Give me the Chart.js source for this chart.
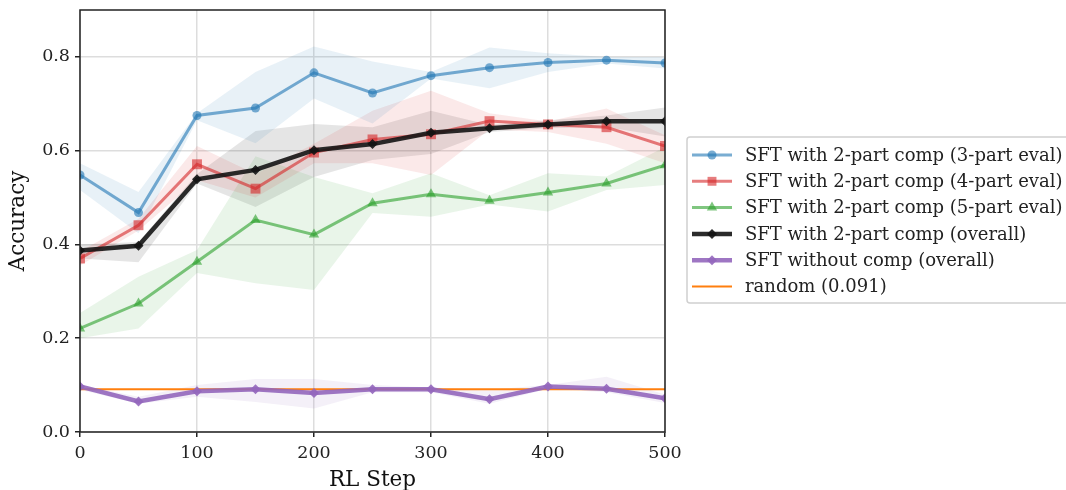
<!DOCTYPE html>
<html lang="en">
<head>
<meta charset="UTF-8" />
<title>Accuracy vs RL Step</title>
<script src="https://cdn.jsdelivr.net/npm/chart.js"></script>
<style>
  html, body { margin: 0; padding: 0; background: #fff; }
  #wrap { width: 1066px; height: 490px; position: relative; }
</style>
</head>
<body>
<div id="wrap"><canvas id="chart"></canvas></div>
<script>
const steps = [0, 50, 100, 150, 200, 250, 300, 350, 400, 450, 500];

const eval3 = [0.548, 0.468, 0.675, 0.691, 0.766, 0.723, 0.760, 0.777, 0.788, 0.793, 0.787];
const eval3Hi = [0.573, 0.512, 0.680, 0.768, 0.822, 0.790, 0.768, 0.820, 0.808, 0.800, 0.800];
const eval3Lo = [0.516, 0.424, 0.665, 0.616, 0.711, 0.658, 0.754, 0.733, 0.768, 0.786, 0.775];

const eval4 = [0.370, 0.441, 0.571, 0.519, 0.596, 0.624, 0.635, 0.663, 0.656, 0.650, 0.610];
const eval4Hi = [0.385, 0.455, 0.610, 0.550, 0.615, 0.685, 0.728, 0.680, 0.662, 0.690, 0.633];
const eval4Lo = [0.355, 0.430, 0.537, 0.500, 0.573, 0.573, 0.548, 0.645, 0.640, 0.615, 0.573];

const eval5 = [0.221, 0.274, 0.363, 0.452, 0.421, 0.488, 0.507, 0.493, 0.511, 0.530, 0.569];
const eval5Hi = [0.254, 0.331, 0.388, 0.588, 0.544, 0.509, 0.552, 0.505, 0.552, 0.545, 0.608];
const eval5Lo = [0.200, 0.221, 0.339, 0.317, 0.303, 0.467, 0.459, 0.485, 0.470, 0.516, 0.527];

const overall = [0.387, 0.397, 0.539, 0.559, 0.601, 0.614, 0.638, 0.648, 0.656, 0.663, 0.663];
const overallHi = [0.400, 0.405, 0.550, 0.642, 0.657, 0.650, 0.685, 0.655, 0.665, 0.675, 0.692];
const overallLo = [0.370, 0.362, 0.530, 0.480, 0.544, 0.580, 0.593, 0.640, 0.648, 0.650, 0.630];

const noComp = [0.097, 0.065, 0.087, 0.091, 0.083, 0.091, 0.091, 0.070, 0.097, 0.092, 0.072];
const noCompHi = [0.100, 0.075, 0.100, 0.113, 0.113, 0.100, 0.095, 0.090, 0.100, 0.118, 0.080];
const noCompLo = [0.090, 0.060, 0.075, 0.064, 0.050, 0.085, 0.085, 0.060, 0.092, 0.085, 0.062];

const randomLevel = 0.091;
const yTicks = [0.0, 0.2, 0.4, 0.6, 0.8];
const xTicks = [0, 100, 200, 300, 400, 500];

const SERIF = "'DejaVu Serif', 'Liberation Serif', serif";

const series = [
  { label: "SFT with 2-part comp (3-part eval)", mean: eval3, hi: eval3Hi, lo: eval3Lo,
    color: "rgba(31,119,180,0.6)", band: "rgba(31,119,180,0.1)", marker: "circle", r: 4.5, width: 3, order: 5 },
  { label: "SFT with 2-part comp (4-part eval)", mean: eval4, hi: eval4Hi, lo: eval4Lo,
    color: "rgba(214,39,40,0.6)", band: "rgba(214,39,40,0.1)", marker: "rect", r: 7, width: 3, order: 4 },
  { label: "SFT with 2-part comp (5-part eval)", mean: eval5, hi: eval5Hi, lo: eval5Lo,
    color: "rgba(44,160,44,0.6)", band: "rgba(44,160,44,0.1)", marker: "triangle", r: 6, width: 3, order: 3 },
  { label: "SFT with 2-part comp (overall)", mean: overall, hi: overallHi, lo: overallLo,
    color: "rgba(20,20,20,0.9)", band: "rgba(0,0,0,0.1)", marker: "rectRot", r: 5, width: 4.5, order: 2 },
  { label: "SFT without comp (overall)", mean: noComp, hi: noCompHi, lo: noCompLo,
    color: "rgba(148,103,189,0.9)", band: "rgba(148,103,189,0.1)", marker: "rectRot", r: 5, width: 4.5, order: 1 },
];

const pts = (arr) => steps.map((s, i) => ({ x: s, y: arr[i] }));

const datasets = [];
series.forEach((s) => {
  datasets.push({ data: pts(s.hi), borderWidth: 0, pointRadius: 0, fill: false, order: 10, clip: 0 });
  datasets.push({ data: pts(s.lo), borderWidth: 0, pointRadius: 0, fill: "-1",
    backgroundColor: s.band, order: 10, clip: 0 });
});
series.forEach((s) => {
  datasets.push({
    label: s.label, data: pts(s.mean), borderColor: s.color, backgroundColor: s.color,
    borderWidth: s.width, pointStyle: s.marker, pointRadius: s.r, pointBorderWidth: 0,
    pointBackgroundColor: s.color, fill: false, tension: 0, order: s.order, clip: 0,
  });
});
datasets.push({
  label: "random (0.091)", data: [{ x: 0, y: randomLevel }, { x: 500, y: randomLevel }],
  borderColor: "#ff7f0e", borderWidth: 2, pointRadius: 0, fill: false, order: 6, clip: 0,
});

const legendItems = series.map((s) => s).concat([
  { label: "random (0.091)", color: "#ff7f0e", width: 2, marker: null },
]);

function drawMarker(ctx, style, x, y, r) {
  ctx.beginPath();
  if (style === "circle") {
    ctx.arc(x, y, r, 0, Math.PI * 2);
  } else if (style === "rect") {
    const h = r * Math.SQRT1_2;
    ctx.rect(x - h, y - h, 2 * h, 2 * h);
  } else if (style === "triangle") {
    ctx.moveTo(x, y - r);
    ctx.lineTo(x + r * 0.866, y + r * 0.5);
    ctx.lineTo(x - r * 0.866, y + r * 0.5);
  } else if (style === "rectRot") {
    ctx.moveTo(x, y - r);
    ctx.lineTo(x + r, y);
    ctx.lineTo(x, y + r);
    ctx.lineTo(x - r, y);
  }
  ctx.closePath();
  ctx.fill();
}

const framePlugin = {
  id: "frame",
  afterDraw(chart) {
    const { ctx, chartArea: a } = chart;
    ctx.save();
    ctx.strokeStyle = "#222";
    ctx.lineWidth = 1.5;
    ctx.strokeRect(a.left, a.top, a.right - a.left, a.bottom - a.top);

    // legend box
    const bx = 687, by = 137, bw = 400, bh = 166;
    ctx.fillStyle = "rgba(255,255,255,0.85)";
    ctx.strokeStyle = "#d0d0d0";
    ctx.lineWidth = 1.5;
    ctx.beginPath();
    ctx.roundRect(bx, by, bw, bh, 3);
    ctx.fill();
    ctx.stroke();

    ctx.font = "18px " + SERIF;
    ctx.textBaseline = "middle";
    legendItems.forEach((it, i) => {
      const y = 155 + i * 26.3;
      ctx.strokeStyle = it.color;
      ctx.lineWidth = it.width;
      ctx.beginPath();
      ctx.moveTo(692, y);
      ctx.lineTo(732, y);
      ctx.stroke();
      if (it.marker) {
        ctx.fillStyle = it.color;
        drawMarker(ctx, it.marker, 712, y, it.marker === "rect" ? it.r * 0.9 : it.r);
      }
      ctx.fillStyle = "#222";
      ctx.fillText(it.label, 745, y + 1);
    });
    ctx.restore();
  },
};

Chart.defaults.font.family = SERIF;
Chart.defaults.font.size = 17.5;
Chart.defaults.color = "#222";

new Chart(document.getElementById("chart"), {
  type: "line",
  data: { datasets },
  options: {
    responsive: true,
    maintainAspectRatio: false,
    animation: false,
    events: [],
    layout: { padding: { left: 0, top: 10, right: 401, bottom: 0 } },
    plugins: {
      legend: { display: false },
      tooltip: { enabled: false },
      filler: { drawTime: "beforeDatasetsDraw" },
    },
    scales: {
      x: {
        type: "linear", min: 0, max: 500,
        afterFit: (s) => { s.height = 58; s.paddingLeft = 0; s.paddingRight = 0; },
        afterBuildTicks: (s) => { s.ticks = xTicks.map((v) => ({ value: v })); },
        ticks: { padding: 6, font: { size: 17.5 }, color: "#222" },
        grid: { color: "#dddddd", lineWidth: 1.5, tickLength: 5, tickColor: "#222", tickWidth: 1.5 },
        border: { display: false },
        title: { display: true, text: "RL Step", font: { size: 21.5 }, color: "#111", padding: { top: 0, bottom: -3 } },
      },
      y: {
        min: 0, max: 0.9,
        afterFit: (s) => { s.width = 80; s.paddingTop = 0; s.paddingBottom = 0; },
        afterBuildTicks: (s) => { s.ticks = yTicks.map((v) => ({ value: v })); },
        ticks: { padding: 5, font: { size: 17.5 }, color: "#222", callback: (v) => v.toFixed(1) },
        grid: { color: "#dddddd", lineWidth: 1.5, tickLength: 5, tickColor: "#222", tickWidth: 1.5 },
        border: { display: false },
        title: { display: true, text: "Accuracy", font: { size: 21.5 }, color: "#111", padding: { top: 6, bottom: 4 } },
      },
    },
  },
  plugins: [framePlugin],
});
</script>
</body>
</html>
